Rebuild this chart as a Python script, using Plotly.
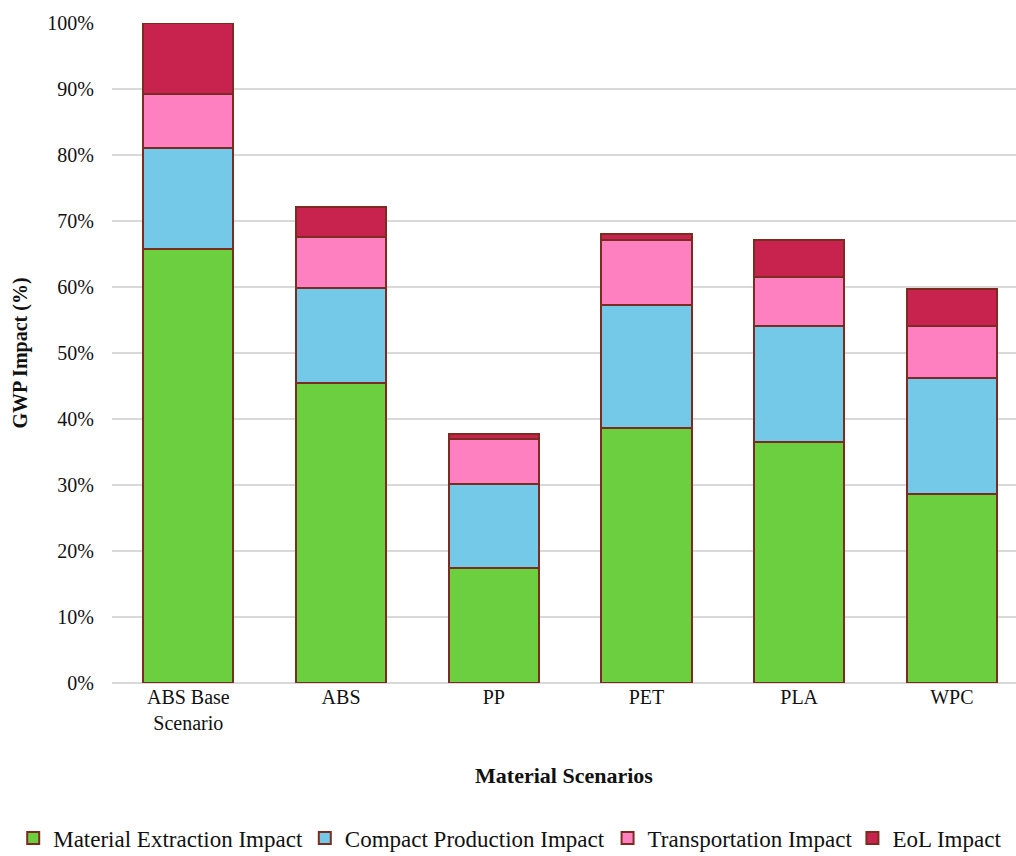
import plotly.graph_objects as go

categories = ["ABS Base<br>Scenario", "ABS", "PP", "PET", "PLA", "WPC"]
material_extraction = [65.8, 45.5, 17.4, 38.6, 36.5, 28.6]
compact_production = [15.3, 14.3, 12.8, 18.7, 17.6, 17.6]
transportation = [8.1, 7.8, 6.8, 9.8, 7.4, 7.9]
eol = [10.8, 4.5, 0.7, 0.9, 5.6, 5.6]

series_names = ["Material Extraction Impact", "Compact Production Impact",
                "Transportation Impact", "EoL Impact"]
series_values = [material_extraction, compact_production, transportation, eol]
series_colors = ["#6CCF3F", "#75C9E8", "#FF80C0", "#C8234F"]
legend_ids = ["legend", "legend2", "legend3", "legend4"]
legend_x = [0.013, 0.300, 0.598, 0.839]

font_family = "Liberation Serif, Times New Roman, serif"

fig = go.Figure()
for name, vals, color, lid in zip(series_names, series_values, series_colors, legend_ids):
    fig.add_trace(go.Bar(
        name=name, x=categories, y=vals, width=0.59,
        marker=dict(color=color, line=dict(color="#7B2B1F", width=2)),
        cliponaxis=False, legend=lid,
    ))

legend_layout = {}
for lid, lx in zip(legend_ids, legend_x):
    legend_layout[lid] = dict(
        orientation="h", xref="container", yref="container",
        x=lx, xanchor="left", y=1 - 838 / 856, yanchor="middle",
        font=dict(size=23, family=font_family, color="#111111"),
        itemwidth=30, bgcolor="rgba(0,0,0,0)",
    )

fig.update_layout(
    barmode="stack",
    width=1016, height=856,
    margin=dict(l=112, r=0, t=23, b=173),
    paper_bgcolor="white", plot_bgcolor="white",
    font=dict(family=font_family, color="#111111", size=20),
    showlegend=True,
    xaxis=dict(
        range=[-0.5, 5.42],
        tickfont=dict(size=20, family=font_family),
        title=dict(text="<b>Material Scenarios</b>", font=dict(size=22, family=font_family), standoff=34),
        showgrid=False, showline=False, ticks="",
    ),
    yaxis=dict(
        range=[0, 100], dtick=10, ticksuffix="%",
        tickfont=dict(size=20, family=font_family),
        ticklabelstandoff=17,
        title=dict(text="<b>GWP Impact (%)</b>", font=dict(size=20, family=font_family), standoff=14),
        showgrid=True, gridcolor="#D9D9D9", gridwidth=1.5,
        zeroline=True, zerolinecolor="#D9D9D9", zerolinewidth=1.5,
        showline=False, ticks="",
    ),
    **legend_layout,
)

fig.write_html("out.html")
